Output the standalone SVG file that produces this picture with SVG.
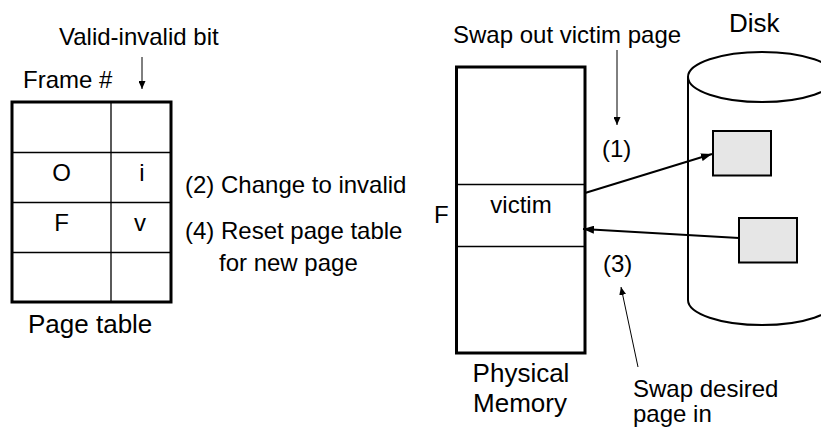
<svg xmlns="http://www.w3.org/2000/svg" width="821" height="429" viewBox="0 0 821 429">
<style>
text{font-family:"Liberation Sans",Arial,sans-serif;fill:#000}
.t24{font-size:24px}
.t26{font-size:26px}
.mid{text-anchor:middle}
.thick{fill:none;stroke:#000;stroke-width:3}
.thin{fill:none;stroke:#000;stroke-width:1.3}
.conn{fill:none;stroke:#000;stroke-width:2}
.ptr{fill:none;stroke:#000;stroke-width:1}
.page{fill:#e6e6e6;stroke:#000;stroke-width:2}
</style>
<defs>
<marker id="ah" markerUnits="userSpaceOnUse" markerWidth="11" markerHeight="8" refX="11" refY="4" orient="auto"><path d="M0,0 L11,4 L0,8 z" fill="#000"/></marker>
<marker id="ahs" markerUnits="userSpaceOnUse" markerWidth="8" markerHeight="7" refX="8" refY="3.5" orient="auto"><path d="M0,0 L8,3.5 L0,7 z" fill="#000"/></marker>
</defs>
<rect width="821" height="429" fill="#fff"/>

<g id="page-table">
<rect x="12" y="102" width="159" height="200" class="thick"/>
<line x1="111" y1="102" x2="111" y2="302" class="thin"/>
<line x1="12" y1="152.5" x2="171" y2="152.5" class="thin"/>
<line x1="12" y1="202.5" x2="171" y2="202.5" class="thin"/>
<line x1="12" y1="252.5" x2="171" y2="252.5" class="thin"/>
<text x="61.5" y="181" class="t24 mid">O</text>
<text x="142" y="181" class="t24 mid">i</text>
<text x="61.5" y="231" class="t24 mid">F</text>
<text x="140" y="231" class="t24 mid">v</text>
<text x="28" y="333" class="t26">Page table</text>
<text x="23" y="88" class="t24">Frame #</text>
<text x="59" y="45" class="t24">Valid-invalid bit</text>
</g>

<g id="notes">
<text x="185" y="193" class="t24">(2) Change to invalid</text>
<text x="185" y="239" class="t24">(4) Reset page table</text>
<text x="219" y="271" class="t24">for new page</text>
</g>

<g id="physical-memory">
<rect x="456.5" y="67" width="128.5" height="286" class="thick"/>
<line x1="456.5" y1="184.5" x2="585" y2="184.5" class="thin"/>
<line x1="456.5" y1="246.5" x2="585" y2="246.5" class="thin"/>
<text x="521" y="213" class="t24 mid">victim</text>
<text x="434" y="223" class="t24">F</text>
<text x="521" y="382" class="t26 mid">Physical</text>
<text x="520" y="412" class="t26 mid">Memory</text>
</g>

<g id="disk">
<path d="M688,77 L688,300 A74,25 0 0 0 836,300" class="conn"/>
<ellipse cx="762" cy="77" rx="74" ry="25" fill="#fff" stroke="#000" stroke-width="2"/>
<rect x="713" y="131" width="58" height="44.5" class="page"/>
<rect x="739" y="218" width="58" height="44.5" class="page"/>
<text x="729" y="32" class="t26">Disk</text>
</g>

<g id="labels">
<text x="453" y="43" class="t24">Swap out victim page</text>
<text x="602" y="157" class="t24">(1)</text>
<text x="603" y="272" class="t24">(3)</text>
<text x="633" y="397" class="t24">Swap desired</text>
<text x="633" y="422" class="t24">page in</text>
</g>

<g id="connectors">
<line x1="142" y1="57" x2="142" y2="89" class="ptr" marker-end="url(#ahs)"/>
<line x1="617" y1="50" x2="617" y2="125" class="ptr" marker-end="url(#ahs)"/>
<line x1="638" y1="367" x2="621" y2="287" class="ptr" marker-end="url(#ahs)"/>
<line x1="585" y1="193" x2="712" y2="154" class="conn" marker-end="url(#ah)"/>
<line x1="739" y1="238" x2="583" y2="229" class="conn" marker-end="url(#ah)"/>
</g>
</svg>
